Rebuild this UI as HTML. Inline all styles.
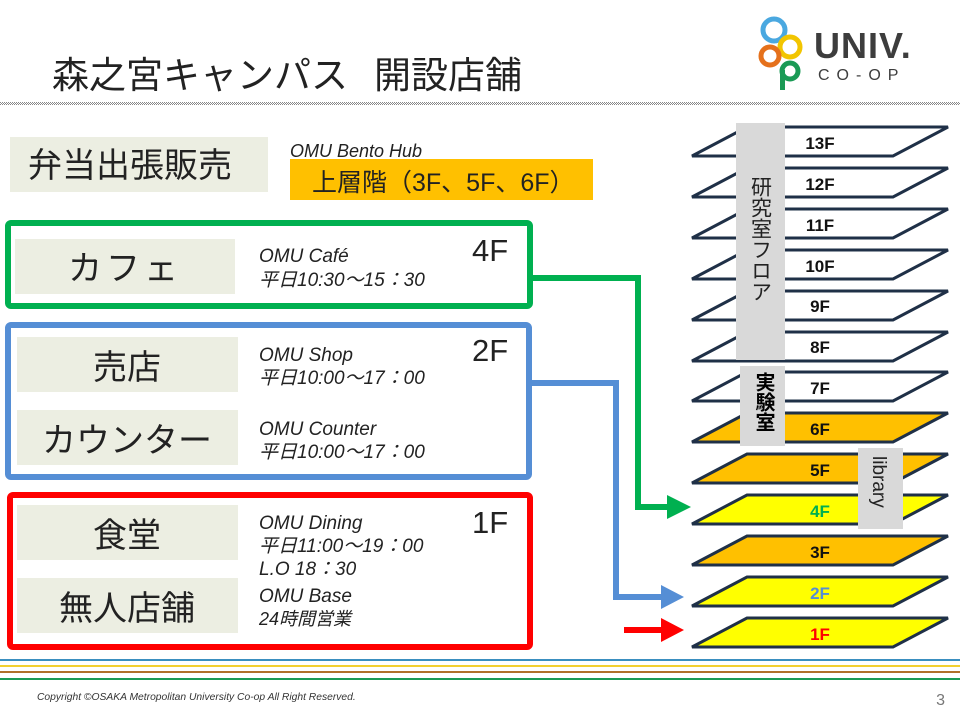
<!DOCTYPE html>
<html><head><meta charset="utf-8"><style>
body{margin:0;background:#fff}
svg{display:block}
.j{font-family:"Liberation Sans","Noto Sans CJK JP",sans-serif}
.i{font-style:italic}
</style></head><body>
<svg width="960" height="720" viewBox="0 0 960 720" class="j">
<defs><pattern id="dp" width="2" height="2" patternUnits="userSpaceOnUse"><rect width="1" height="1" fill="#888"/><rect x="1" y="1" width="1" height="1" fill="#888"/></pattern></defs>
<text x="52" y="88" font-size="37" fill="#222">森之宮キャンパス</text>
<text x="374" y="88" font-size="37" fill="#222">開設店舗</text>
<rect x="0" y="102" width="960" height="3" fill="url(#dp)"/>
<!-- logo -->
<circle cx="774" cy="30" r="11" fill="none" stroke="#4aa8e0" stroke-width="5"/>
<circle cx="790" cy="47" r="10" fill="none" stroke="#f2c500" stroke-width="5"/>
<circle cx="770" cy="56" r="9" fill="none" stroke="#e5711c" stroke-width="5"/>
<circle cx="790" cy="71" r="8" fill="none" stroke="#1a9a55" stroke-width="5"/>
<rect x="780" y="70" width="5" height="20" fill="#1a9a55"/>
<text x="814" y="58" font-size="36" font-weight="bold" fill="#3d3d3d" letter-spacing="1">UNIV.</text>
<text x="818" y="80" font-size="16" fill="#3d3d3d" letter-spacing="7">CO-OP</text>
<!-- bento -->
<rect x="10" y="137" width="258" height="55" fill="#eceee2"/>
<text x="130" y="177" font-size="34" text-anchor="middle" fill="#222">弁当出張販売</text>
<text x="290" y="157" font-size="18" class="i" fill="#222">OMU Bento Hub</text>
<rect x="290" y="159" width="303" height="41" fill="#ffc000"/>
<text x="312" y="191" font-size="25" fill="#222">上層階（3F、5F、6F）</text>
<!-- green box -->
<rect x="8" y="223" width="522" height="83" rx="3" fill="none" stroke="#00b050" stroke-width="6"/>
<rect x="15" y="239" width="220" height="55" fill="#eceee2"/>
<text x="125" y="280" font-size="34" text-anchor="middle" fill="#222" letter-spacing="4">カフェ</text>
<text x="259" y="262" font-size="19" class="i" fill="#222">OMU Café</text>
<text x="259" y="286" font-size="19" class="i" fill="#222">平日10:30～15：30</text>
<text x="472" y="261" font-size="31" fill="#222">4F</text>
<!-- blue -->
<rect x="8" y="325" width="521" height="152" rx="3" fill="none" stroke="#558ed5" stroke-width="6"/>
<rect x="17" y="337" width="221" height="55" fill="#eceee2"/>
<text x="127" y="379" font-size="34" text-anchor="middle" fill="#222">売店</text>
<rect x="17" y="410" width="221" height="55" fill="#eceee2"/>
<text x="127" y="452" font-size="34" text-anchor="middle" fill="#222">カウンター</text>
<text x="259" y="361" font-size="19" class="i" fill="#222">OMU Shop</text>
<text x="259" y="384" font-size="19" class="i" fill="#222">平日10:00～17：00</text>
<text x="259" y="435" font-size="19" class="i" fill="#222">OMU Counter</text>
<text x="259" y="458" font-size="19" class="i" fill="#222">平日10:00～17：00</text>
<text x="472" y="361" font-size="31" fill="#222">2F</text>
<!-- red -->
<rect x="10" y="495" width="520" height="152" rx="3" fill="none" stroke="#ff0000" stroke-width="6"/>
<rect x="17" y="505" width="221" height="55" fill="#eceee2"/>
<text x="127" y="547" font-size="34" text-anchor="middle" fill="#222">食堂</text>
<rect x="17" y="578" width="221" height="55" fill="#eceee2"/>
<text x="127" y="620" font-size="34" text-anchor="middle" fill="#222">無人店舗</text>
<text x="259" y="529" font-size="19" class="i" fill="#222">OMU Dining</text>
<text x="259" y="552" font-size="19" class="i" fill="#222">平日11:00～19：00</text>
<text x="259" y="575" font-size="19" class="i" fill="#222">L.O  18：30</text>
<text x="259" y="602" font-size="19" class="i" fill="#222">OMU Base</text>
<text x="259" y="625" font-size="18" class="i" fill="#222">24時間営業</text>
<text x="472" y="533" font-size="31" fill="#222">1F</text>
<!-- connectors -->
<polyline points="531,278 638,278 638,507 668,507" fill="none" stroke="#00b050" stroke-width="6"/>
<polygon points="667,495 691,507 667,519" fill="#00b050"/>
<polyline points="531,383 616,383 616,597 662,597" fill="none" stroke="#558ed5" stroke-width="6"/>
<polygon points="661,585 684,597 661,609" fill="#558ed5"/>
<line x1="624" y1="630" x2="662" y2="630" stroke="#ff0000" stroke-width="6"/>
<polygon points="661,618 684,630 661,642" fill="#ff0000"/>
<!-- floors -->
<g stroke="#1f3047" stroke-width="3" stroke-linejoin="miter">
<polygon points="747,127 948,127 893,156 692,156" fill="#fff"/>
<polygon points="747,168 948,168 893,197 692,197" fill="#fff"/>
<polygon points="747,209 948,209 893,238 692,238" fill="#fff"/>
<polygon points="747,250 948,250 893,279 692,279" fill="#fff"/>
<polygon points="747,291 948,291 893,320 692,320" fill="#fff"/>
<polygon points="747,332 948,332 893,361 692,361" fill="#fff"/>
<polygon points="747,372 948,372 893,401 692,401" fill="#fff"/>
<polygon points="747,413 948,413 893,442 692,442" fill="#ffc000"/>
<polygon points="747,454 948,454 893,483 692,483" fill="#ffc000"/>
<polygon points="747,495 948,495 893,524 692,524" fill="#ffff00"/>
<polygon points="747,536 948,536 893,565 692,565" fill="#ffc000"/>
<polygon points="747,577 948,577 893,606 692,606" fill="#ffff00"/>
<polygon points="747,618 948,618 893,647 692,647" fill="#ffff00"/>
</g>
<rect x="736" y="123" width="49" height="237" fill="#d9d9d9"/>
<text x="760" y="176" font-size="21" fill="#222" style="writing-mode:vertical-rl">研究室フロア</text>
<rect x="740" y="366" width="45" height="80" fill="#d9d9d9"/>
<text x="763" y="372" font-size="20" fill="#000" font-weight="bold" style="writing-mode:vertical-rl">実験室</text>
<rect x="858" y="448" width="45" height="81" fill="#d9d9d9"/>
<text transform="translate(873,456) rotate(90)" font-size="19" fill="#222">library</text>
<g font-size="17" font-weight="bold" text-anchor="middle" fill="#111">
<text x="820" y="149">13F</text><text x="820" y="190">12F</text><text x="820" y="231">11F</text>
<text x="820" y="272">10F</text><text x="820" y="312">9F</text><text x="820" y="353">8F</text>
<text x="820" y="394">7F</text><text x="820" y="435">6F</text><text x="820" y="476">5F</text>
<text x="820" y="517" fill="#00b050">4F</text><text x="820" y="558">3F</text>
<text x="820" y="599" fill="#558ed5">2F</text><text x="820" y="640" fill="#ff0000">1F</text>
</g>
<!-- bottom lines -->
<rect x="0" y="659" width="960" height="2" fill="#3a8fc0"/>
<rect x="0" y="665" width="960" height="2" fill="#f2d030"/>
<rect x="0" y="671" width="960" height="2" fill="#b0702a"/>
<rect x="0" y="678" width="960" height="2" fill="#1a9a55"/>
<text x="37" y="700" font-size="10.3" class="i" fill="#333">Copyright ©OSAKA Metropolitan University Co-op All Right Reserved.</text>
<text x="945" y="705" font-size="16" fill="#777" text-anchor="end">3</text>
</svg>
</body></html>
